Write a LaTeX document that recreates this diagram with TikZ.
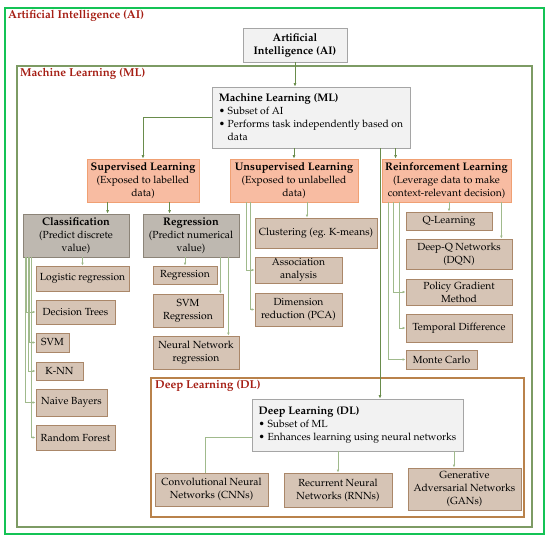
\documentclass[tikz,border=0pt]{standalone}
\usepackage[T1]{fontenc}
\usepackage{mathpazo}
\usetikzlibrary{arrows.meta,calc}
\definecolor{aigreen}{RGB}{20,195,85}
\definecolor{mlgreen}{RGB}{125,155,100}
\definecolor{dlbrown}{RGB}{185,130,75}
\definecolor{titlered}{RGB}{165,30,20}
\definecolor{boxgray}{RGB}{242,242,242}
\definecolor{boxgrayline}{RGB}{165,165,165}
\definecolor{salmonfill}{RGB}{248,188,162}
\definecolor{salmonline}{RGB}{240,160,115}
\definecolor{catfill}{RGB}{190,184,176}
\definecolor{catline}{RGB}{140,132,120}
\definecolor{leaffill}{RGB}{214,196,181}
\definecolor{leafline}{RGB}{170,135,105}
\definecolor{maingreen}{RGB}{105,140,75}
\definecolor{lightgreen}{RGB}{160,186,140}
\newcommand\hd[1]{{\fontsize{11}{13}\selectfont\bfseries #1}}
\begin{document}
\begin{tikzpicture}[x=1pt,y=-1pt,
  font=\fontsize{10.3}{13}\selectfont,
  base/.style={draw, line width=0.8pt, inner sep=1pt, align=center, anchor=center},
  graybox/.style={base, fill=boxgray, draw=boxgrayline},
  salmonbox/.style={base, fill=salmonfill, draw=salmonline},
  catbox/.style={base, fill=catfill, draw=catline},
  leafbox/.style={base, fill=leaffill, draw=leafline},
  frametitle/.style={anchor=west, inner sep=0pt, text=titlered, font=\fontsize{11.5}{14}\selectfont\bfseries},
  mainarr/.style={draw=maingreen, line width=0.9pt, -{Latex[length=3.5pt,width=3pt]}},
  subarr/.style={draw=lightgreen, line width=0.8pt, -{Latex[length=3pt,width=2.6pt]}},
  subline/.style={draw=lightgreen, line width=0.8pt}
]
\useasboundingbox (0,0) rectangle (550,539);
% frames
\draw[draw=aigreen, line width=1.3pt] (5,8) rectangle (544,534);
\draw[draw=mlgreen, line width=1.2pt] (17,66) rectangle (532,527);
\draw[draw=dlbrown, line width=1.2pt] (151,378) rectangle (524,517);
\node[frametitle] (aititle) at (8,16) {Artificial Intelligence (AI)};
\node[frametitle] (mltitle) at (20,74) {Machine Learning (ML)};
\node[frametitle] (dltitle) at (155,386) {Deep Learning (DL)};

% top nodes
\node[graybox, minimum width=104pt, minimum height=34pt] (ai) at (295,45) {\hd{Artificial}\\\hd{Intelligence (AI)}};
\node[graybox, minimum width=198pt, minimum height=61pt, align=left] (ml) at (311,117.5)
  {\hd{Machine Learning (ML)}\\\textbullet\ Subset of AI\\\textbullet\ Performs task independently based on\\\hphantom{\textbullet\ }data};

% second level
\node[salmonbox, minimum width=112pt, minimum height=43pt] (sup) at (143,180.5) {\hd{Supervised Learning}\\(Exposed to labelled\\data)};
\node[salmonbox, minimum width=128pt, minimum height=43pt] (unsup) at (294,180.5) {\hd{Unsupervised Learning}\\(Exposed to unlabelled\\data)};
\node[salmonbox, minimum width=129pt, minimum height=43pt] (rl) at (446.5,180.5) {\hd{Reinforcement Learning}\\(Leverage data to make\\context-relevant decision)};

% supervised children
\node[catbox, minimum width=106pt, minimum height=43pt] (cls) at (76,235.5) {\hd{Classification}\\(Predict discrete\\value)};
\node[catbox, minimum width=96pt, minimum height=43pt] (reg) at (191,235.5) {\hd{Regression}\\(Predict numerical\\value)};

% classification leaves
\node[leafbox, minimum width=93pt, minimum height=25pt] (logreg) at (82.5,278.5) {Logistic regression};
\node[leafbox, minimum width=79pt, minimum height=24pt] (dtree) at (75.5,312) {Decision Trees};
\node[leafbox, minimum width=33pt, minimum height=19pt] (svm) at (52.5,342.5) {SVM};
\node[leafbox, minimum width=47pt, minimum height=18pt] (knn) at (59.5,371) {K-NN};
\node[leafbox, minimum width=71pt, minimum height=27pt] (nb) at (71.5,402.5) {Naive Bayers};
\node[leafbox, minimum width=79pt, minimum height=25pt] (rf) at (75.5,437.5) {Random Forest};

% regression leaves
\node[leafbox, minimum width=64pt, minimum height=18pt] (regl) at (185,275) {Regression};
\node[leafbox, minimum width=70pt, minimum height=33pt] (svmr) at (188,310.5) {SVM\\Regression};
\node[leafbox, minimum width=86pt, minimum height=33pt] (nnr) at (196,352.5) {Neural Network\\regression};

% unsupervised leaves
\node[leafbox, minimum width=122pt, minimum height=30pt] (clu) at (316,233) {Clustering (eg. K-means)};
\node[leafbox, minimum width=87pt, minimum height=26pt] (asso) at (298.5,270) {Association\\analysis};
\node[leafbox, minimum width=87pt, minimum height=33pt] (dim) at (298.5,309.5) {Dimension\\reduction (PCA)};

% reinforcement leaves
\node[leafbox, minimum width=86pt, minimum height=18pt] (ql) at (449,221) {Q-Learning};
\node[leafbox, minimum width=106pt, minimum height=30pt] (dqn) at (459,254) {Deep-Q Networks\\(DQN)};
\node[leafbox, minimum width=106pt, minimum height=26pt] (pg) at (459,292) {Policy Gradient\\Method};
\node[leafbox, minimum width=106pt, minimum height=28pt] (td) at (459,328) {Temporal Difference};
\node[leafbox, minimum width=71pt, minimum height=19pt] (mc) at (441.5,359.5) {Monte Carlo};

% deep learning
\node[graybox, minimum width=211pt, minimum height=52pt, align=left] (dln) at (357.5,425)
  {\hd{Deep Learning (DL)}\\\textbullet\ Subset of ML\\\textbullet\ Enhances learning using neural networks};
\node[leafbox, minimum width=113pt, minimum height=33pt] (cnn) at (211.5,489.5) {Convolutional Neural\\Networks (CNNs)};
\node[leafbox, minimum width=108pt, minimum height=34pt] (rnn) at (338,490) {Recurrent Neural\\Networks (RNNs)};
\node[leafbox, minimum width=113pt, minimum height=42pt] (gan) at (464.5,489) {Generative\\Adversarial Networks\\(GANs)};

% main connectors
\draw[mainarr] (ai.south) -- (ai.south |- ml.north);
\draw[mainarr] (ml.west) -| (sup.north);
\draw[mainarr] (unsup.north |- ml.south) -- (unsup.north);
\draw[mainarr] ([xshift=14pt]rl.north west |- ml.south) -- ([xshift=14pt]rl.north west);
\draw[mainarr] ([xshift=22.5pt]dln.north |- ml.south) -- ([xshift=22.5pt]dln.north);
\draw[mainarr] ([xshift=21pt]sup.south west) -- ([xshift=21pt]sup.south west |- cls.north);
\draw[mainarr] ([xshift=83pt]sup.south west) -- ([xshift=83pt]sup.south west |- reg.north);

% classification connectors
\draw[subarr] (logreg.north |- cls.south) -- (logreg.north);
\draw[subarr] ([xshift=4pt]cls.south west) |- (dtree.west);
\draw[subarr] ([xshift=7pt]cls.south west) |- (svm.west);
\draw[subarr] ([xshift=5.5pt]cls.south west) |- (knn.west);
\draw[subarr] ([xshift=2.5pt]cls.south west) |- (nb.west);
\draw[subarr] ([xshift=8.5pt]cls.south west) |- (rf.west);

% regression connectors
\draw[subarr] (regl.north |- reg.south) -- (regl.north);
\draw[subarr] ([xshift=-3pt]svmr.north east |- reg.south) -- ([xshift=-3pt]svmr.north east);
\draw[subarr] ([xshift=-11pt]nnr.north east |- reg.south) -- ([xshift=-11pt]nnr.north east);

% unsupervised connectors
\draw[subarr] ([xshift=-9pt]clu.north |- unsup.south) -- ([xshift=-9pt]clu.north);
\draw[subarr] ([xshift=17pt]unsup.south west) |- (asso.west);
\draw[subarr] ([xshift=21pt]unsup.south west) |- (dim.west);

% reinforcement connectors
\draw[subarr] (ql.north |- rl.south) -- (ql.north);
\draw[subarr] ([xshift=-11pt]dqn.north east |- rl.south) -- ([xshift=-11pt]dqn.north east);
\draw[subarr] ([xshift=12pt]rl.south west) |- (pg.west);
\draw[subarr] ([xshift=18pt]rl.south west) |- (td.west);
\draw[subarr] ([xshift=7pt]rl.south west) |- (mc.west);

% deep learning connectors
\draw[subline] ([yshift=-12pt]dln.west) -| ([xshift=-6.5pt]cnn.north);
\draw[subarr] (rnn.north |- dln.south) -- (rnn.north);
\draw[subarr] ([xshift=-10.5pt]gan.north |- dln.south) -- ([xshift=-10.5pt]gan.north);
\end{tikzpicture}
\end{document}
